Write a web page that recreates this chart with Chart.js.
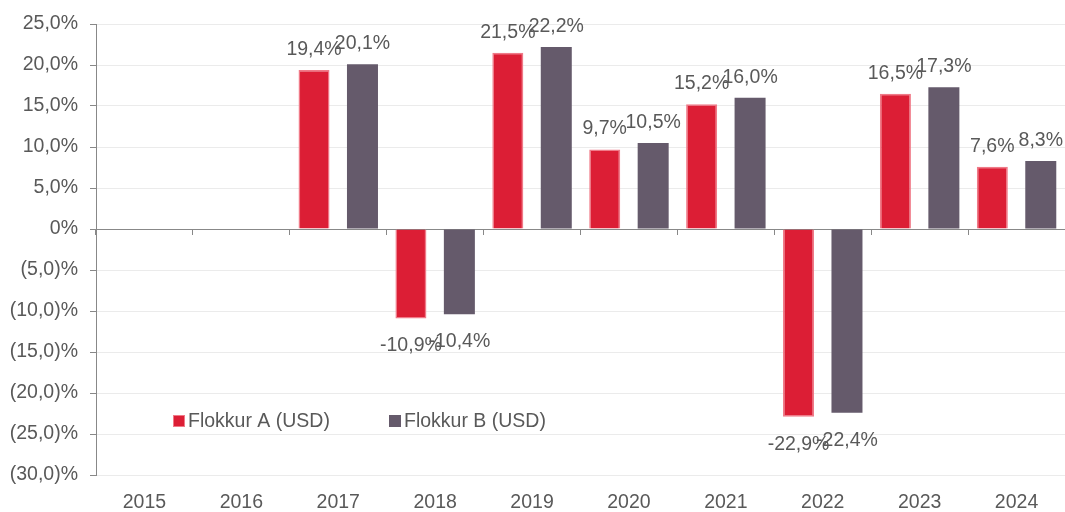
<!DOCTYPE html>
<html>
<head>
<meta charset="utf-8">
<script src="https://cdn.jsdelivr.net/npm/chart.js@4/dist/chart.umd.min.js"></script>
<style>
  html, body { margin: 0; padding: 0; background: #fff; }
  #wrap { width: 1065px; height: 512px; position: relative; }
</style>
</head>
<body>
<div id="wrap"><canvas id="myChart"></canvas></div>
<script>
const years = ['2015', '2016', '2017', '2018', '2019', '2020', '2021', '2022', '2023', '2024'];
const seriesNames = ['Flokkur A (USD)', 'Flokkur B (USD)'];
const flokkurA = [null, null, 19.4, -10.9, 21.5, 9.7, 15.2, -22.9, 16.5, 7.6];
const flokkurB = [null, null, 20.1, -10.4, 22.2, 10.5, 16.0, -22.4, 17.3, 8.3];
const yTicks = [25, 20, 15, 10, 5, 0, -5, -10, -15, -20, -25, -30];

const RED = '#dc1e35';
const RED_EDGE = '#f07a88';
const GRAY = '#655a6b';
const TEXT = '#595959';
const FONT = 'Liberation Sans, Arial, sans-serif';
const FSIZE = 19.5;

// 19,4% / (10,0)% / 0%
function fmtTick(v) {
    if (v === 0) return '0%';
    const s = Math.abs(v).toFixed(1).replace('.', ',');
    return v < 0 ? '(' + s + ')%' : s + '%';
}
function fmtLabel(v) {
    return v.toFixed(1).replace('.', ',') + '%';
}

// value labels above / below the bars
const valueLabels = {
    id: 'valueLabels',
    afterDatasetsDraw(chart) {
        const ctx = chart.ctx;
        ctx.save();
        ctx.font = FSIZE + 'px ' + FONT;
        ctx.fillStyle = TEXT;
        ctx.textAlign = 'center';
        ctx.textBaseline = 'alphabetic';
        chart.data.datasets.forEach((ds, i) => {
            chart.getDatasetMeta(i).data.forEach((bar, j) => {
                const v = ds.data[j];
                if (v === null) return;
                const y = v >= 0 ? bar.y - 15 : bar.y + 33;
                ctx.fillText(fmtLabel(v), bar.x, y);
            });
        });
        ctx.restore();
    }
};

// legend sitting inside the plot area
const innerLegend = {
    id: 'innerLegend',
    afterDraw(chart) {
        const ctx = chart.ctx;
        const a = chart.chartArea;
        const y = a.top + 397;
        let x = a.left + 77;
        ctx.save();
        ctx.font = FSIZE + 'px ' + FONT;
        ctx.textBaseline = 'middle';
        ctx.textAlign = 'left';
        chart.data.datasets.forEach((ds, i) => {
            ctx.fillStyle = ds.backgroundColor;
            ctx.fillRect(x, y - 6, 12, 12);
            if (ds.borderWidth) {
                ctx.strokeStyle = ds.borderColor;
                ctx.lineWidth = 1;
                ctx.strokeRect(x + 0.5, y - 5.5, 11, 11);
            }
            ctx.fillStyle = TEXT;
            ctx.fillText(ds.label, x + 15, y + 1);
            x += 216;
        });
        ctx.restore();
    }
};

const config = {
    type: 'bar',
    data: {
        labels: years,
        datasets: [{
            label: seriesNames[0],
            data: flokkurA,
            backgroundColor: RED,
            borderColor: RED_EDGE,
            borderWidth: 1.5,
            categoryPercentage: 1.0,
            barPercentage: 0.64
        }, {
            label: seriesNames[1],
            data: flokkurB,
            backgroundColor: GRAY,
            borderWidth: 0,
            categoryPercentage: 1.0,
            barPercentage: 0.64
        }]
    },
    options: {
        responsive: true,
        maintainAspectRatio: false,
        animation: false,
        layout: { padding: { top: 24, right: 0, bottom: 0, left: 0 } },
        plugins: {
            legend: { display: false },
            tooltip: { enabled: false }
        },
        scales: {
            // axis line + tick marks along the zero line
            x: {
                type: 'category',
                position: { y: 0 },
                offset: true,
                grid: {
                    offset: true,
                    drawOnChartArea: false,
                    drawTicks: true,
                    tickLength: 5,
                    tickColor: '#888'
                },
                border: { display: true, color: '#888', width: 1 },
                ticks: { display: false }
            },
            // year labels at the bottom
            x2: {
                type: 'category',
                position: 'bottom',
                offset: true,
                grid: { display: false, drawTicks: false },
                border: { display: false },
                ticks: {
                    color: TEXT,
                    font: { size: FSIZE, family: FONT },
                    padding: 16
                },
                afterFit(scale) { scale.height = 37; }
            },
            y: {
                min: -30,
                max: 25,
                afterBuildTicks(scale) {
                    scale.ticks = yTicks.map(v => ({ value: v }));
                },
                grid: {
                    color: '#ebebeb',
                    tickColor: '#888',
                    tickLength: 6
                },
                border: { display: true, color: '#888', width: 1 },
                ticks: {
                    color: TEXT,
                    font: { size: FSIZE, family: FONT },
                    padding: 12,
                    callback: (v) => fmtTick(v)
                },
                afterFit(scale) { scale.width = 96; }
            }
        }
    },
    plugins: [valueLabels, innerLegend]
};

const ctx = document.getElementById('myChart').getContext('2d');
const myChart = new Chart(ctx, config);
</script>
</body>
</html>
